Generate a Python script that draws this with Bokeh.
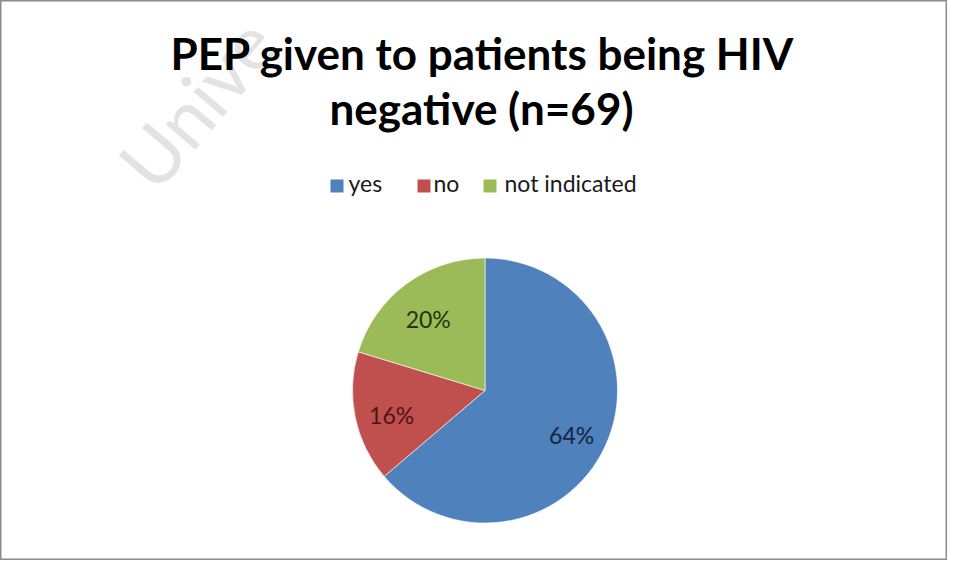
import math
from bokeh.plotting import figure
from bokeh.models import Range1d, ColumnDataSource
from bokeh.core.properties import value
from bokeh.embed import file_html
from bokeh.resources import INLINE

# ---- data ----
title_lines = ["PEP given to patients being HIV", "negative (n=69)"]
categories = ["yes", "no", "not indicated"]
counts = [44, 11, 14]
pct_labels = ["64%", "16%", "20%"]
colors = ["#4F81BD", "#C0504D", "#9BBB59"]
label_colors = ["#16243f", "#4a1616", "#25330f"]

W, H = 947, 560
# coordinates: x = pixel x, y = -pixel y
p = figure(width=W, height=H, output_backend="svg", toolbar_location=None,
           x_range=Range1d(0, W), y_range=Range1d(-H, 0),
           min_border=0)
p.axis.visible = False
p.grid.visible = False
p.outline_line_color = "#8c8c8c"
p.outline_line_width = 2
p.background_fill_color = "white"
p.border_fill_color = "white"

FONT = "Lato"

# watermark
p.text(x=[196], y=[-102], text=["Unive"], angle=0.87,
       text_font=value(FONT), text_font_size="76px", text_color="#e3e3e3",
       text_baseline="middle", text_align="center")

# title
p.text(x=[482, 481], y=[-52.5, -107.5], text=title_lines,
       text_font=value(FONT), text_font_size="44px", text_font_style="bold",
       text_color="#000000", text_align="center", text_baseline="middle")

# legend
leg_sq_x = [336.5, 423.5, 489.5]
leg_tx_x = [348, 433, 504]
p.rect(x=leg_sq_x, y=[-185.5] * 3, width=13, height=13, fill_color=colors,
       line_color=None)
p.text(x=leg_tx_x, y=[-182] * 3, text=categories, text_font=value(FONT),
       text_font_size="23px", text_color="#1a1a1a", text_align="left",
       text_baseline="middle")

# pie
cx, cy, r = 484.5, -390.0, 132.5
total = sum(counts)
starts, ends, lx, ly = [], [], [], []
cum = 0.0
for c in counts:
    a0 = math.pi / 2 - 2 * math.pi * cum / total
    a1 = math.pi / 2 - 2 * math.pi * (cum + c) / total
    starts.append(a0)
    ends.append(a1)
    mid = (a0 + a1) / 2
    lx.append(cx + 0.72 * r * math.cos(mid))
    ly.append(cy + 0.72 * r * math.sin(mid))
    cum += c

src = ColumnDataSource(dict(start=starts, end=ends, color=colors, cat=categories))
p.wedge(x=cx, y=cy, radius=r, start_angle="start", end_angle="end",
        direction="clock", fill_color="color", line_color="white",
        line_width=0.6, source=src)

p.text(x=lx, y=ly, text=pct_labels, text_color=label_colors,
       text_font=value(FONT), text_font_size="23px", text_align="center",
       text_baseline="middle", y_offset=5)

open("out.html", "w").write(file_html(p, INLINE))
